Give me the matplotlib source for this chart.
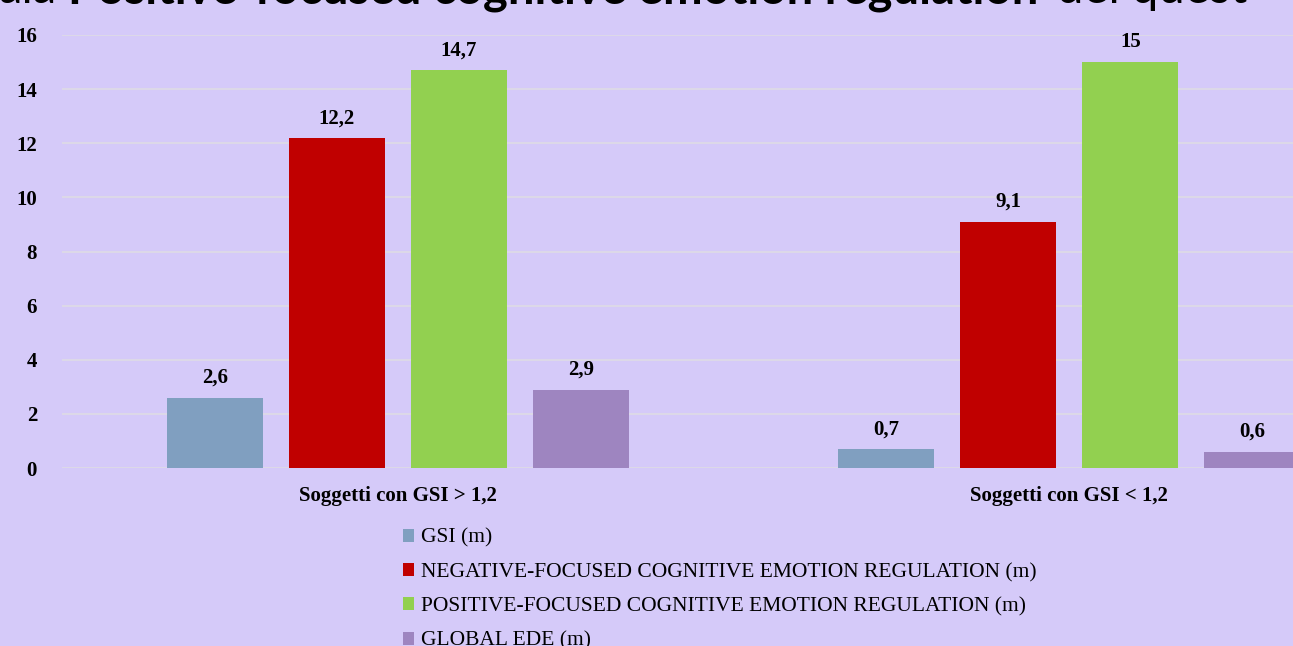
import matplotlib
matplotlib.use("Agg")
import matplotlib.pyplot as plt
from matplotlib.patches import Patch
import numpy as np

categories = ["Soggetti con GSI > 1,2", "Soggetti con GSI < 1,2"]
series_names = ["GSI (m)",
                "NEGATIVE-FOCUSED COGNITIVE EMOTION REGULATION (m)",
                "POSITIVE-FOCUSED COGNITIVE EMOTION REGULATION (m)",
                "GLOBAL EDE (m)"]
gsi = [2.6, 0.7]
negative = [12.2, 9.1]
positive = [14.7, 15.0]
ede = [2.9, 0.6]
value_labels = [["2,6", "0,7"], ["12,2", "9,1"], ["14,7", "15"], ["2,9", "0,6"]]
y_ticks = [0, 2, 4, 6, 8, 10, 12, 14, 16]

colors = ["#809FC0", "#C00000", "#92D050", "#9E85C0"]
bg = "#D5CAF9"

fig = plt.figure(figsize=(12.93, 6.46), dpi=100, facecolor=bg)
ax = fig.add_axes([62/1293, 1-468/646, (1405-62)/1293, (468-35)/646])
ax.set_facecolor(bg)

x = np.arange(len(categories))
width = 0.143
step = 0.1817
offsets = [-1.5*step, -0.5*step, 0.5*step, 1.5*step]
data = [gsi, negative, positive, ede]
for i, (vals, off) in enumerate(zip(data, offsets)):
    bars = ax.bar(x + off, vals, width, color=colors[i], zorder=3, label=series_names[i])
    for b, lab in zip(bars, value_labels[i]):
        ax.annotate(lab, (b.get_x() + b.get_width()/2, b.get_height()),
                    xytext=(0, 7), textcoords="offset points", ha="center", va="bottom",
                    fontsize=15, fontweight="bold", family="Liberation Serif")

ax.set_xlim(-0.5, 1.5)
ax.set_ylim(0, 16)
ax.set_yticks(y_ticks)
ax.set_yticklabels([str(t) for t in y_ticks], fontsize=15, fontweight="bold", family="Liberation Serif")
ax.set_xticks(x)
ax.set_xticklabels(categories, fontsize=15, fontweight="bold", family="Liberation Serif")
ax.tick_params(axis="both", length=0)
ax.tick_params(axis="y", pad=18)
ax.tick_params(axis="x", pad=13)
ax.grid(axis="y", color="#DCD8E8", linewidth=1.5, zorder=0)
for s in ax.spines.values():
    s.set_visible(False)

handles = [Patch(facecolor=c, edgecolor="none") for c in colors]
leg = fig.legend(handles, series_names, loc="upper left",
                 bbox_to_anchor=(394/1293, 1-520/646), frameon=False,
                 prop={"family": "Liberation Serif", "size": 15.5},
                 handlelength=0.55, handleheight=0.55, handletextpad=0.3,
                 labelspacing=0.7, borderaxespad=0)

# partially visible heading above the chart
base_y = 1 - 3/646
fig.text(-2/1293, base_y, "ala", fontsize=34, family="Lato", va="baseline", ha="left")
fig.text(68/1293, base_y, "Positive-focused cognitive emotion regulation", fontsize=34,
         family="Lato", fontweight="bold", va="baseline", ha="left")
fig.text(1057/1293, base_y, "del quest", fontsize=34, family="Lato", va="baseline", ha="left")

fig.savefig("out.png", dpi=100, facecolor=bg)
